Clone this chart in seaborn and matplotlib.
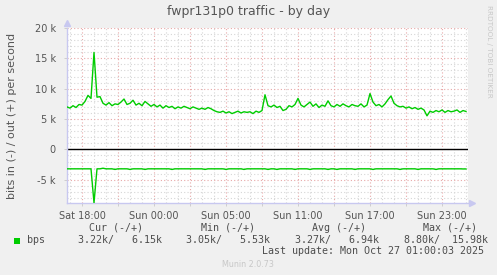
import numpy as np
import pandas as pd
import matplotlib
matplotlib.use("Agg")
import matplotlib.pyplot as plt
from matplotlib.ticker import MultipleLocator, FuncFormatter
from matplotlib.patches import Rectangle
import seaborn as sns

# ---- data (hours relative to Sat 18:00, 15-minute samples) ----
start_hour = -1.25
step_hour = 0.25
out_kbps = [
    7.0, 6.8, 7.2, 6.9, 7.4,
    7.3, 7.9, 8.9, 8.4,
    15.98, 8.6, 8.7, 7.6,
    7.3, 7.7, 7.2, 7.5,
    7.4, 7.8, 8.3, 7.4,
    7.6, 8.1, 7.3, 7.6,
    7.2, 7.9, 7.5, 7.1,
    7.4, 7.0, 7.3, 6.8,
    7.2, 6.9, 7.1, 6.7,
    7.0, 6.8, 7.1, 6.9,
    6.7, 7.0, 6.8, 6.6,
    6.8, 6.6, 6.9, 6.7,
    6.4, 6.2, 6.1, 6.3,
    6.0, 6.2, 5.9, 6.1,
    6.3, 6.0, 6.2, 6.1,
    6.2, 5.9, 6.3, 6.1,
    6.4, 9.0, 7.2, 7.0,
    7.3, 6.9, 7.1, 6.4,
    6.6, 7.2, 7.0, 7.4,
    8.4, 7.3, 7.0, 7.4,
    7.8, 7.1, 7.5, 6.9,
    7.3, 7.1, 8.0, 7.2,
    7.0, 7.4, 7.1, 7.5,
    7.2, 7.0, 7.4, 7.2,
    7.1, 7.5, 7.0, 7.3,
    9.2, 7.8, 7.2, 7.4,
    7.0, 7.5, 8.2, 8.8,
    7.6, 7.2, 7.0, 7.1,
    6.8, 7.0, 6.7, 6.9,
    6.6, 6.8, 6.5, 5.53,
    6.3, 6.1, 6.4, 6.2,
    6.5, 6.1, 6.4, 6.2,
    6.3, 6.5, 6.1, 6.4,
    6.25,
]
in_kbps = [
    3.2, 3.2, 3.2, 3.2, 3.2,
    3.2, 3.2, 3.2, 3.2,
    8.8, 3.2, 3.2, 3.1,
    3.2, 3.2, 3.2, 3.3,
    3.2, 3.2, 3.2, 3.2,
    3.3, 3.2, 3.2, 3.2,
    3.2, 3.3, 3.2, 3.2,
    3.2, 3.2, 3.2, 3.2,
    3.2, 3.2, 3.3, 3.2,
    3.2, 3.2, 3.2, 3.2,
    3.2, 3.2, 3.2, 3.2,
    3.2, 3.3, 3.2, 3.2,
    3.2, 3.2, 3.2, 3.2,
    3.3, 3.2, 3.2, 3.2,
    3.2, 3.2, 3.3, 3.2,
    3.2, 3.2, 3.2, 3.2,
    3.2, 3.2, 3.3, 3.2,
    3.2, 3.3, 3.2, 3.2,
    3.2, 3.2, 3.2, 3.3,
    3.2, 3.2, 3.2, 3.2,
    3.3, 3.2, 3.2, 3.2,
    3.2, 3.2, 3.3, 3.2,
    3.2, 3.3, 3.2, 3.2,
    3.2, 3.2, 3.2, 3.3,
    3.2, 3.2, 3.2, 3.2,
    3.2, 3.3, 3.2, 3.2,
    3.2, 3.2, 3.2, 3.2,
    3.2, 3.2, 3.3, 3.2,
    3.2, 3.2, 3.2, 3.2,
    3.3, 3.2, 3.2, 3.2,
    3.2, 3.2, 3.3, 3.2,
    3.2, 3.2, 3.2, 3.2,
    3.2, 3.2, 3.2, 3.22,
    3.22,
]
x_tick_hours = [0, 6, 12, 18, 24, 30]
x_tick_labels = ["Sat 18:00", "Sun 00:00", "Sun 05:00", "Sun 11:00", "Sun 17:00", "Sun 23:00"]
y_ticks = [-5000, 0, 5000, 10000, 15000, 20000]
legend_heads = ["Cur (-/+)", "Min (-/+)", "Avg (-/+)", "Max (-/+)"]
legend_vals = ["3.22k/   6.15k", "3.05k/   5.53k", "3.27k/   6.94k", "8.80k/  15.98k"]
series_name = "bps"
title = "fwpr131p0 traffic - by day"
ylabel = "bits in (-) / out (+) per second"
last_update = "Last update: Mon Oct 27 01:00:03 2025"

hours = start_hour + step_hour * np.arange(len(out_kbps))
df = pd.DataFrame({
    "hour": hours,
    "out": np.array(out_kbps) * 1000,
    "in": -np.array(in_kbps) * 1000,
})

# ---- figure ----
W, H = 497, 275
fig = plt.figure(figsize=(W / 100, H / 100), dpi=100)
fig.patch.set_facecolor("#F0F0F0")

L, R, T, B = 67, 468, 28, 203
ax = fig.add_axes([L / W, 1 - B / H, (R - L) / W, (B - T) / H])
ax.set_facecolor("white")

GREEN = "#00CC00"
sns.lineplot(data=df, x="hour", y="out", ax=ax, color=GREEN, linewidth=1.0, zorder=3)
sns.lineplot(data=df, x="hour", y="in", ax=ax, color=GREEN, linewidth=1.0, zorder=3)
ax.axhline(0, color="black", linewidth=1.0, zorder=2.5)

ax.set_xlim(-1.25, (R - 82) / 12)
ax.set_ylim(-8830, 20000)

# grid
ax.xaxis.set_major_locator(MultipleLocator(3))
ax.xaxis.set_minor_locator(MultipleLocator(1))
lab = dict(zip(x_tick_hours, x_tick_labels))
ax.xaxis.set_major_formatter(FuncFormatter(lambda v, p: lab.get(int(round(v)), "") if abs(v - round(v)) < 1e-6 else ""))
ax.set_yticks(y_ticks)
ax.yaxis.set_minor_locator(MultipleLocator(1000))
ax.yaxis.set_major_formatter(FuncFormatter(lambda v, p: "0" if v == 0 else f"{v/1000:g} k"))

ax.grid(which="minor", color="#D6D6D6", linestyle=(0, (1, 2)), linewidth=0.8)
ax.grid(which="major", color="#E8A8A8", linestyle=(0, (1, 2)), linewidth=0.8)
ax.set_axisbelow(True)

ax.tick_params(axis="both", which="major", labelsize=7, labelcolor="#555555",
               color="#C8C8C8", length=2, width=0.6)
ax.tick_params(axis="both", which="minor", length=0)
ax.tick_params(axis="x", pad=4)
ax.tick_params(axis="y", pad=6)

for s in ["top", "right"]:
    ax.spines[s].set_visible(False)
AXC = "#C8C8F0"
ax.spines["left"].set_color(AXC)
ax.spines["bottom"].set_color(AXC)
ax.spines["left"].set_linewidth(1.0)
ax.spines["bottom"].set_linewidth(1.0)
# arrow heads
ax.plot([0], [1.03], marker="^", color=AXC, markersize=4, transform=ax.transAxes, clip_on=False)
ax.plot([1.01], [0], marker=">", color=AXC, markersize=4, transform=ax.transAxes, clip_on=False)
ax.set_xlabel("")
ax.set_ylabel("")


def T(xp, yp, s, **kw):
    fig.text(xp / W, 1 - yp / H, s, **kw)


T(249, 12, title, ha="center", va="center", fontsize=9, color="#555555")
T(12, 115.5, ylabel, ha="center", va="center", rotation=90, fontsize=8, color="#555555")
T(489, 5, "RRDTOOL / TOBI OETIKER", ha="center", va="top", rotation=270,
  fontsize=5.2, color="#C8C8C8")

MONO = dict(family="DejaVu Sans Mono", fontsize=7.2, color="#4D4D4D", va="center")
for xh, s in zip([89, 201, 312, 423], legend_heads):
    T(xh, 228, s, ha="left", **MONO)
T(27, 240, series_name, ha="left", **MONO)
for xv, s in zip([78, 186, 295, 404], legend_vals):
    T(xv, 240, s, ha="left", **MONO)
T(483.5, 251.5, last_update, ha="right", **MONO)
fig.patches.append(Rectangle((14 / W, 1 - 244 / H), 6 / W, 6 / H, transform=fig.transFigure,
                             facecolor=GREEN, edgecolor="none"))
T(248, 264.5, "Munin 2.0.73", ha="center", va="center", fontsize=5.8, color="#C8C8C8")

fig.savefig("out.png", dpi=100, facecolor=fig.get_facecolor())
